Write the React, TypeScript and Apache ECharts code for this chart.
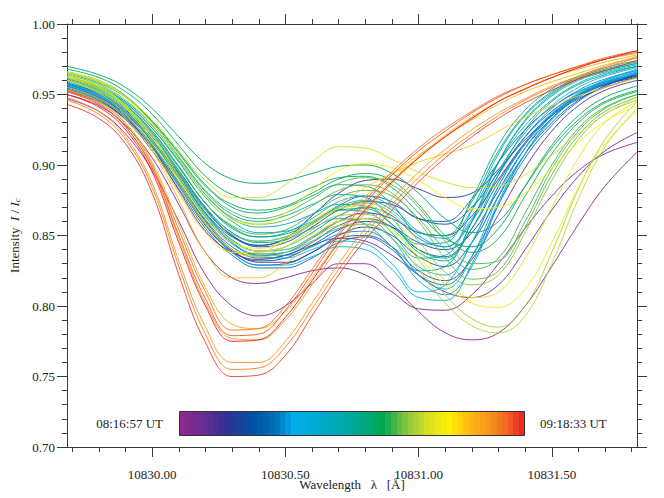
import React, { useEffect, useRef } from "react";
import * as echarts from "echarts";

// Wavelength sample positions (Å) at which each profile is read
const WAVELENGTHS = [10829.68, 10829.8, 10829.9, 10830.0, 10830.1, 10830.2, 10830.3, 10830.4, 10830.5, 10830.6, 10830.7, 10830.8, 10830.9, 10831.0, 10831.1, 10831.2, 10831.3, 10831.4, 10831.5, 10831.6, 10831.7, 10831.82];

// Intensity profiles I/Ic, ordered in time (08:16:57 UT -> 09:18:33 UT)
const P_A = [0.947, 0.938, 0.922, 0.896, 0.860, 0.822, 0.800, 0.793, 0.800, 0.816, 0.830, 0.830, 0.815, 0.796, 0.781, 0.776, 0.781, 0.800, 0.828, 0.858, 0.885, 0.909];
const P_B = [0.950, 0.942, 0.928, 0.905, 0.872, 0.838, 0.820, 0.816, 0.820, 0.825, 0.827, 0.822, 0.810, 0.798, 0.797, 0.808, 0.830, 0.855, 0.878, 0.896, 0.908, 0.916];
const P_C = [0.955, 0.947, 0.933, 0.912, 0.882, 0.853, 0.838, 0.833, 0.836, 0.843, 0.848, 0.846, 0.836, 0.822, 0.810, 0.806, 0.815, 0.840, 0.868, 0.892, 0.910, 0.923];
const B1 = [0.952, 0.945, 0.933, 0.913, 0.887, 0.860, 0.840, 0.831, 0.831, 0.838, 0.848, 0.850, 0.842, 0.825, 0.818, 0.833, 0.865, 0.898, 0.924, 0.942, 0.953, 0.960];
const B2 = [0.955, 0.948, 0.936, 0.916, 0.891, 0.864, 0.845, 0.836, 0.838, 0.848, 0.860, 0.866, 0.862, 0.852, 0.850, 0.864, 0.890, 0.916, 0.936, 0.949, 0.957, 0.962];
const B3 = [0.957, 0.950, 0.938, 0.918, 0.894, 0.868, 0.850, 0.843, 0.848, 0.864, 0.880, 0.889, 0.890, 0.883, 0.877, 0.880, 0.897, 0.918, 0.935, 0.947, 0.955, 0.962];
const B4 = [0.958, 0.951, 0.939, 0.920, 0.895, 0.869, 0.850, 0.842, 0.845, 0.856, 0.868, 0.874, 0.872, 0.862, 0.858, 0.870, 0.895, 0.920, 0.938, 0.950, 0.958, 0.963];
const B9 = [0.955, 0.947, 0.934, 0.913, 0.886, 0.858, 0.839, 0.832, 0.834, 0.843, 0.854, 0.860, 0.856, 0.845, 0.840, 0.852, 0.882, 0.912, 0.933, 0.948, 0.957, 0.963];
const B5 = [0.954, 0.946, 0.933, 0.912, 0.885, 0.857, 0.838, 0.829, 0.830, 0.838, 0.850, 0.856, 0.850, 0.835, 0.828, 0.845, 0.878, 0.908, 0.930, 0.946, 0.956, 0.964];
const B6 = [0.956, 0.948, 0.935, 0.914, 0.888, 0.861, 0.842, 0.834, 0.836, 0.845, 0.857, 0.862, 0.856, 0.840, 0.835, 0.855, 0.888, 0.915, 0.935, 0.949, 0.958, 0.965];
const B10 = [0.957, 0.949, 0.937, 0.917, 0.892, 0.866, 0.849, 0.843, 0.847, 0.858, 0.871, 0.878, 0.874, 0.862, 0.860, 0.876, 0.902, 0.925, 0.941, 0.952, 0.959, 0.964];
const B7 = [0.953, 0.945, 0.932, 0.910, 0.883, 0.855, 0.836, 0.827, 0.827, 0.834, 0.845, 0.849, 0.840, 0.822, 0.815, 0.835, 0.872, 0.905, 0.928, 0.945, 0.956, 0.965];
const B8 = [0.958, 0.951, 0.938, 0.918, 0.893, 0.866, 0.847, 0.839, 0.842, 0.852, 0.864, 0.870, 0.864, 0.848, 0.842, 0.860, 0.893, 0.920, 0.940, 0.953, 0.961, 0.967];
const C6 = [0.957, 0.950, 0.937, 0.917, 0.891, 0.864, 0.845, 0.836, 0.836, 0.842, 0.851, 0.853, 0.842, 0.818, 0.808, 0.828, 0.872, 0.908, 0.933, 0.949, 0.959, 0.966];
const C1 = [0.955, 0.948, 0.937, 0.918, 0.893, 0.866, 0.845, 0.835, 0.834, 0.840, 0.846, 0.844, 0.830, 0.810, 0.815, 0.845, 0.885, 0.915, 0.936, 0.950, 0.959, 0.966];
const C7 = [0.954, 0.946, 0.934, 0.913, 0.886, 0.858, 0.838, 0.829, 0.829, 0.835, 0.842, 0.840, 0.826, 0.806, 0.804, 0.830, 0.874, 0.908, 0.932, 0.948, 0.958, 0.965];
const C2 = [0.956, 0.949, 0.937, 0.916, 0.890, 0.863, 0.844, 0.837, 0.838, 0.846, 0.855, 0.858, 0.848, 0.828, 0.822, 0.845, 0.885, 0.915, 0.937, 0.951, 0.960, 0.967];
const C3 = [0.959, 0.952, 0.940, 0.921, 0.896, 0.870, 0.852, 0.846, 0.849, 0.858, 0.870, 0.875, 0.868, 0.850, 0.842, 0.862, 0.896, 0.923, 0.942, 0.955, 0.963, 0.969];
const C4 = [0.957, 0.950, 0.938, 0.918, 0.892, 0.865, 0.846, 0.839, 0.840, 0.849, 0.860, 0.862, 0.848, 0.822, 0.812, 0.835, 0.878, 0.912, 0.935, 0.950, 0.960, 0.968];
const C5 = [0.960, 0.953, 0.942, 0.923, 0.898, 0.873, 0.855, 0.849, 0.852, 0.862, 0.874, 0.878, 0.870, 0.853, 0.848, 0.868, 0.902, 0.928, 0.946, 0.958, 0.965, 0.970];
const T1 = [0.962, 0.955, 0.944, 0.926, 0.902, 0.877, 0.860, 0.852, 0.853, 0.860, 0.868, 0.867, 0.852, 0.834, 0.836, 0.868, 0.908, 0.935, 0.951, 0.961, 0.967, 0.972];
const T2 = [0.960, 0.953, 0.941, 0.922, 0.896, 0.870, 0.852, 0.845, 0.847, 0.855, 0.862, 0.858, 0.842, 0.825, 0.828, 0.860, 0.902, 0.931, 0.949, 0.960, 0.966, 0.971];
const T6 = [0.962, 0.955, 0.944, 0.926, 0.903, 0.879, 0.862, 0.856, 0.858, 0.865, 0.872, 0.871, 0.858, 0.838, 0.832, 0.860, 0.902, 0.932, 0.950, 0.961, 0.967, 0.972];
const T3 = [0.963, 0.956, 0.945, 0.928, 0.905, 0.881, 0.865, 0.860, 0.864, 0.872, 0.879, 0.877, 0.862, 0.844, 0.845, 0.876, 0.914, 0.939, 0.954, 0.963, 0.969, 0.974];
const T4 = [0.965, 0.958, 0.948, 0.931, 0.909, 0.886, 0.870, 0.866, 0.870, 0.878, 0.886, 0.885, 0.872, 0.852, 0.850, 0.874, 0.910, 0.936, 0.952, 0.962, 0.968, 0.973];
const T5 = [0.961, 0.954, 0.942, 0.924, 0.899, 0.873, 0.856, 0.849, 0.851, 0.859, 0.868, 0.869, 0.858, 0.840, 0.834, 0.855, 0.893, 0.925, 0.945, 0.957, 0.964, 0.970];
const G6 = [0.968, 0.962, 0.952, 0.936, 0.914, 0.892, 0.879, 0.875, 0.877, 0.884, 0.891, 0.892, 0.884, 0.866, 0.848, 0.842, 0.855, 0.885, 0.914, 0.935, 0.948, 0.956];
const G1 = [0.970, 0.964, 0.955, 0.940, 0.920, 0.901, 0.890, 0.887, 0.889, 0.894, 0.899, 0.900, 0.894, 0.880, 0.862, 0.852, 0.860, 0.885, 0.912, 0.932, 0.945, 0.953];
const G2 = [0.966, 0.960, 0.949, 0.931, 0.908, 0.885, 0.872, 0.868, 0.871, 0.880, 0.890, 0.894, 0.889, 0.872, 0.850, 0.838, 0.848, 0.878, 0.908, 0.930, 0.944, 0.952];
const G3 = [0.962, 0.955, 0.943, 0.924, 0.899, 0.873, 0.857, 0.851, 0.854, 0.865, 0.877, 0.882, 0.878, 0.862, 0.840, 0.826, 0.834, 0.866, 0.900, 0.926, 0.941, 0.950];
const G7 = [0.965, 0.959, 0.948, 0.930, 0.906, 0.882, 0.867, 0.862, 0.866, 0.876, 0.887, 0.891, 0.886, 0.870, 0.846, 0.830, 0.832, 0.860, 0.897, 0.924, 0.940, 0.950];
const G4 = [0.964, 0.957, 0.946, 0.928, 0.904, 0.879, 0.863, 0.858, 0.861, 0.871, 0.882, 0.886, 0.880, 0.860, 0.834, 0.819, 0.825, 0.856, 0.893, 0.921, 0.938, 0.948];
const G5 = [0.960, 0.953, 0.941, 0.921, 0.895, 0.868, 0.851, 0.846, 0.849, 0.858, 0.869, 0.873, 0.866, 0.846, 0.824, 0.815, 0.822, 0.852, 0.889, 0.918, 0.936, 0.946];
const Y6 = [0.960, 0.952, 0.938, 0.915, 0.886, 0.858, 0.840, 0.836, 0.842, 0.854, 0.864, 0.865, 0.855, 0.833, 0.808, 0.791, 0.785, 0.800, 0.838, 0.883, 0.918, 0.945];
const Y5 = [0.962, 0.954, 0.940, 0.917, 0.888, 0.859, 0.840, 0.835, 0.838, 0.848, 0.857, 0.858, 0.848, 0.826, 0.802, 0.786, 0.781, 0.793, 0.830, 0.876, 0.913, 0.940];
const Y2 = [0.965, 0.959, 0.948, 0.932, 0.910, 0.889, 0.877, 0.877, 0.886, 0.902, 0.913, 0.912, 0.904, 0.895, 0.888, 0.884, 0.885, 0.893, 0.907, 0.922, 0.936, 0.948];
const Y7 = [0.962, 0.955, 0.941, 0.919, 0.890, 0.862, 0.845, 0.841, 0.846, 0.858, 0.869, 0.871, 0.862, 0.840, 0.818, 0.806, 0.810, 0.834, 0.870, 0.905, 0.930, 0.945];
const Y4 = [0.963, 0.956, 0.942, 0.921, 0.892, 0.864, 0.846, 0.839, 0.842, 0.851, 0.860, 0.862, 0.853, 0.835, 0.815, 0.802, 0.799, 0.812, 0.845, 0.884, 0.915, 0.938];
const Y3 = [0.966, 0.960, 0.948, 0.929, 0.904, 0.878, 0.861, 0.858, 0.866, 0.882, 0.896, 0.901, 0.898, 0.889, 0.877, 0.869, 0.870, 0.880, 0.898, 0.916, 0.931, 0.942];
const Y1 = [0.960, 0.951, 0.936, 0.912, 0.880, 0.852, 0.838, 0.838, 0.848, 0.860, 0.872, 0.884, 0.894, 0.902, 0.908, 0.914, 0.924, 0.934, 0.942, 0.949, 0.955, 0.962];
const R9 = [0.955, 0.947, 0.933, 0.910, 0.875, 0.838, 0.820, 0.820, 0.830, 0.845, 0.862, 0.878, 0.893, 0.907, 0.920, 0.932, 0.943, 0.952, 0.959, 0.965, 0.971, 0.976];
const R8 = [0.953, 0.945, 0.930, 0.902, 0.858, 0.813, 0.787, 0.784, 0.796, 0.820, 0.846, 0.869, 0.889, 0.906, 0.921, 0.934, 0.945, 0.954, 0.962, 0.968, 0.973, 0.978];
const R7 = [0.952, 0.943, 0.927, 0.897, 0.848, 0.802, 0.777, 0.776, 0.790, 0.815, 0.842, 0.866, 0.887, 0.905, 0.920, 0.933, 0.945, 0.954, 0.962, 0.969, 0.975, 0.979];
const R6 = [0.948, 0.938, 0.920, 0.887, 0.832, 0.785, 0.760, 0.760, 0.775, 0.802, 0.830, 0.855, 0.876, 0.895, 0.911, 0.925, 0.937, 0.947, 0.956, 0.963, 0.970, 0.977];
const R5 = [0.946, 0.936, 0.918, 0.884, 0.828, 0.780, 0.755, 0.756, 0.771, 0.798, 0.826, 0.851, 0.872, 0.891, 0.908, 0.922, 0.935, 0.946, 0.955, 0.962, 0.969, 0.976];
const R4 = [0.953, 0.944, 0.929, 0.900, 0.854, 0.810, 0.783, 0.784, 0.800, 0.826, 0.852, 0.875, 0.895, 0.912, 0.926, 0.938, 0.949, 0.957, 0.964, 0.970, 0.975, 0.980];
const R3 = [0.952, 0.943, 0.927, 0.898, 0.850, 0.805, 0.779, 0.780, 0.797, 0.823, 0.850, 0.873, 0.893, 0.910, 0.924, 0.937, 0.948, 0.957, 0.964, 0.970, 0.976, 0.981];
const R2 = [0.943, 0.933, 0.915, 0.880, 0.822, 0.774, 0.750, 0.751, 0.765, 0.793, 0.822, 0.847, 0.868, 0.888, 0.905, 0.920, 0.933, 0.944, 0.953, 0.961, 0.967, 0.974];
const R1 = [0.950, 0.941, 0.925, 0.895, 0.845, 0.800, 0.775, 0.776, 0.792, 0.818, 0.845, 0.868, 0.888, 0.905, 0.920, 0.933, 0.945, 0.954, 0.962, 0.969, 0.975, 0.981];

const PROFILES = [P_A, P_B, P_C, B1, B2, B3, B4, B9, B5, B6, B10, B7, B8, C6, C1, C7, C2, C3, C4, C5, T1, T2, T6, T3, T4, T5, G6, G1, G2, G3, G7, G4, G5, Y6, Y5, Y2, Y7, Y4, Y3, Y1, R9, R8, R7, R6, R5, R4, R3, R2, R1];
// Position of each profile in the observing sequence (0 = first, 1 = last)
const TIME_FRACTIONS = [0.0, 0.03, 0.06, 0.09, 0.12, 0.15, 0.18, 0.19, 0.21, 0.24, 0.25, 0.27, 0.3, 0.31, 0.33, 0.34, 0.35, 0.37, 0.39, 0.41, 0.44, 0.47, 0.48, 0.5, 0.53, 0.55, 0.57, 0.58, 0.6, 0.62, 0.63, 0.64, 0.66, 0.68, 0.7, 0.72, 0.74, 0.76, 0.78, 0.82, 0.84, 0.86, 0.88, 0.9, 0.92, 0.94, 0.96, 0.98, 1.0];

const X_MAJOR = [10830.0, 10830.5, 10831.0, 10831.5];
const X_MINOR = [10829.7, 10829.8, 10829.9, 10830.1, 10830.2, 10830.3, 10830.4, 10830.6, 10830.7, 10830.8, 10830.9, 10831.1, 10831.2, 10831.3, 10831.4, 10831.6, 10831.7, 10831.8];
const X_MIN = 10829.68;
const X_MAX = 10831.82;
const Y_MIN = 0.7;
const Y_MAX = 1.0;
const START_LABEL = "08:16:57 UT";
const END_LABEL = "09:18:33 UT";

const CMAP: [number, string][] = [
  [0.0, "#93278f"],
  [0.07, "#662d91"],
  [0.14, "#2e3192"],
  [0.22, "#0054a6"],
  [0.28, "#0072bc"],
  [0.33, "#00aeef"],
  [0.42, "#00a9c5"],
  [0.5, "#00a99d"],
  [0.59, "#00a651"],
  [0.66, "#8dc63f"],
  [0.72, "#d7df23"],
  [0.78, "#fff200"],
  [0.84, "#fdb913"],
  [0.9, "#f7941d"],
  [0.95, "#f26522"],
  [1.0, "#ed1c24"],
];

function hexToRgb(h: string) {
  return [parseInt(h.slice(1, 3), 16), parseInt(h.slice(3, 5), 16), parseInt(h.slice(5, 7), 16)];
}
function colorAt(t: number) {
  for (let i = 0; i < CMAP.length - 1; i++) {
    const [t0, c0] = CMAP[i];
    const [t1, c1] = CMAP[i + 1];
    if (t >= t0 && t <= t1) {
      const f = (t - t0) / (t1 - t0 || 1);
      const a = hexToRgb(c0);
      const b = hexToRgb(c1);
      const r = a.map((v, k) => Math.round(v + (b[k] - v) * f));
      return `rgb(${r[0]},${r[1]},${r[2]})`;
    }
  }
  return CMAP[CMAP.length - 1][1];
}

const FONT = "Liberation Serif";
const AXIS_COLOR = "#3a3a3a";
const TEXT_COLOR = "#222";

export default function App() {
  const ref = useRef<HTMLDivElement>(null);
  useEffect(() => {
    if (!ref.current) return;
    const chart = echarts.init(ref.current, null, { renderer: "svg" });

    const fmt = (v: number) => v.toFixed(2);
    const mkX = (pos: string, ticks: number[], len: number, labels: boolean, line: boolean, extra: any = {}) => ({
      type: "value",
      position: pos,
      min: X_MIN,
      max: X_MAX,
      axisLine: { show: line, onZero: false, lineStyle: { color: AXIS_COLOR, width: 1 } },
      axisTick: { show: true, customValues: ticks, length: len, inside: false, lineStyle: { color: AXIS_COLOR, width: 1 } },
      axisLabel: labels
        ? { show: true, customValues: X_MAJOR, formatter: fmt, margin: 21, color: TEXT_COLOR, fontFamily: FONT, fontSize: 13 }
        : { show: false },
      splitLine: { show: false },
      ...extra,
    });
    const mkY = (pos: string, labels: boolean, extra: any = {}) => ({
      type: "value",
      position: pos,
      min: Y_MIN,
      max: Y_MAX,
      interval: 0.05,
      axisLine: { show: true, onZero: false, lineStyle: { color: AXIS_COLOR, width: 1 } },
      axisTick: { show: true, length: 10, inside: false, lineStyle: { color: AXIS_COLOR, width: 1 } },
      minorTick: { show: true, splitNumber: 5, length: 5, lineStyle: { color: AXIS_COLOR, width: 1 } },
      axisLabel: labels
        ? { show: true, formatter: fmt, margin: 12, color: TEXT_COLOR, fontFamily: FONT, fontSize: 13 }
        : { show: false },
      splitLine: { show: false },
      minorSplitLine: { show: false },
      ...extra,
    });

    const series = PROFILES.map((vals, i) => ({
      type: "line",
      name: `profile ${i + 1}`,
      xAxisIndex: 0,
      yAxisIndex: 0,
      data: WAVELENGTHS.map((w, k) => [w, vals[k]]),
      smooth: 0.4,
      symbol: "none",
      showSymbol: false,
      silent: true,
      lineStyle: { color: colorAt(TIME_FRACTIONS[i]), width: 1, opacity: 0.9 },
      z: 2,
    }));

    // stepped colour bar stops
    const N = 62;
    const stops: any[] = [];
    for (let i = 0; i < N; i++) {
      const c = colorAt((i + 0.5) / N);
      stops.push({ offset: i / N, color: c });
      stops.push({ offset: (i + 1) / N, color: c });
    }

    chart.setOption({
      animation: false,
      backgroundColor: "#ffffff",
      textStyle: { fontFamily: FONT },
      grid: { left: 67, right: 27, top: 24, bottom: 51, containLabel: false, outerBoundsMode: "none" },
      xAxis: [
        mkX("bottom", X_MAJOR, 10, true, true, {
          name: "Wavelength\u00a0\u00a0\u00a0λ\u00a0\u00a0\u00a0[Å]",
          nameLocation: "middle",
          nameGap: 31,
          nameMoveOverlap: false,
          nameTextStyle: { fontFamily: FONT, fontSize: 13, color: TEXT_COLOR },
        }),
        mkX("bottom", X_MINOR, 5, false, false),
        mkX("top", X_MAJOR, 10, false, true),
        mkX("top", X_MINOR, 5, false, false),
      ],
      yAxis: [
        mkY("left", true, {
          name: "Intensity\u00a0\u00a0{it|I}\u00a0/\u00a0{it|I}{sub|c}",
          nameLocation: "middle",
          nameGap: 46,
          nameMoveOverlap: false,
          nameRotate: 90,
          nameTextStyle: {
            fontFamily: FONT,
            fontSize: 13,
            color: TEXT_COLOR,
            rich: {
              it: { fontFamily: FONT, fontSize: 13, fontStyle: "italic", color: TEXT_COLOR },
              sub: { fontFamily: FONT, fontSize: 9, fontStyle: "italic", color: TEXT_COLOR, verticalAlign: "bottom", padding: [5, 0, 0, 0] },
            },
          },
        }),
        mkY("right", false),
      ],
      series,
      graphic: [
        {
          type: "rect",
          left: 179,
          top: 411,
          shape: { width: 345, height: 24 },
          style: {
            fill: new echarts.graphic.LinearGradient(0, 0, 1, 0, stops),
            stroke: "#333",
            lineWidth: 1,
          },
          z: 10,
        },
        {
          type: "text",
          x: 163,
          y: 423,
          style: { text: START_LABEL, fill: TEXT_COLOR, fontFamily: FONT, fontSize: 13, textAlign: "right", textVerticalAlign: "middle" },
          z: 10,
        },
        {
          type: "text",
          x: 540,
          y: 423,
          style: { text: END_LABEL, fill: TEXT_COLOR, fontFamily: FONT, fontSize: 13, textAlign: "left", textVerticalAlign: "middle" },
          z: 10,
        },
      ],
    });
    return () => chart.dispose();
  }, []);
  return <div ref={ref} style={{ position: "fixed", left: 0, top: 0, width: 664, height: 498, background: "#fff" }} />;
}
